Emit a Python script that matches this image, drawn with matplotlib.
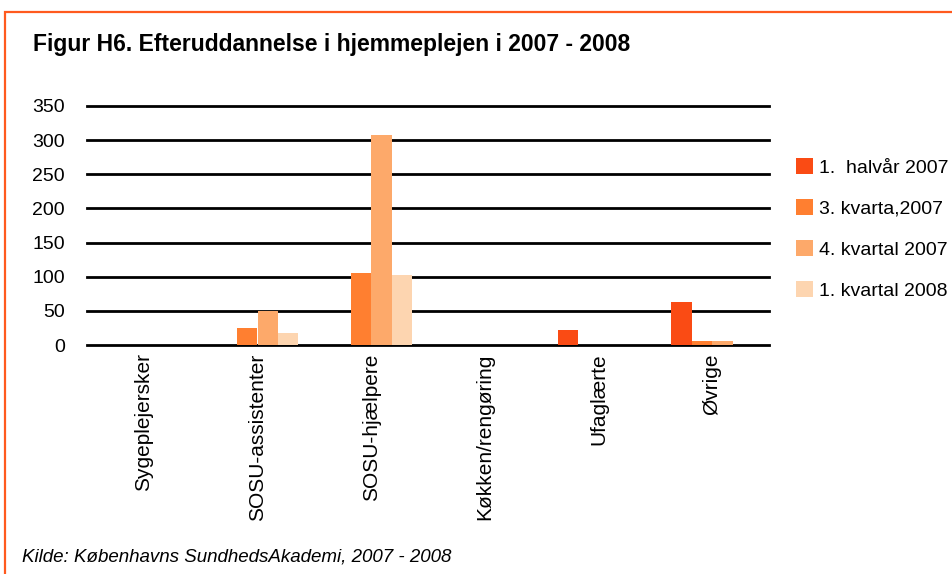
import matplotlib.pyplot as plt
import numpy as np
from matplotlib.patches import Rectangle

plt.rcParams['font.family'] = ['Liberation Sans', 'DejaVu Sans']

categories = ['Sygeplejersker', 'SOSU-assistenter', 'SOSU-hjælpere',
              'Køkken/rengøring', 'Ufaglærte', 'Øvrige']
series_names = ['1.  halvår 2007', '3. kvarta,2007', '4. kvartal 2007', '1. kvartal 2008']
halvaar_2007 = [0, 0, 0, 0, 22, 63]
kvartal3_2007 = [0, 25, 105, 0, 0, 6]
kvartal4_2007 = [0, 50, 308, 0, 0, 6]
kvartal1_2008 = [0, 18, 102, 0, 0, 0]
colors = ['#FA4B14', '#FF7F30', '#FDA96A', '#FDD5B0']

fig = plt.figure(figsize=(9.52, 5.74), dpi=100)

# orange ramme
fig.patches.append(Rectangle((5 / 952, -0.1), 1.2, 1.1 - 12 / 574, transform=fig.transFigure,
                             fill=False, edgecolor='#FF5A1E', linewidth=1.6))

ax = fig.add_axes([87 / 952, 1 - 345 / 574, 682 / 952, 239 / 574])
x = np.arange(len(categories))
w = 0.18
data = [halvaar_2007, kvartal3_2007, kvartal4_2007, kvartal1_2008]
for i, vals in enumerate(data):
    ax.bar(x + (i - 1.5) * w, vals, width=w, color=colors[i], label=series_names[i], zorder=3)

ax.set_xlim(-0.5, len(categories) - 0.5)
ax.set_ylim(0, 350)
ax.set_yticks(range(0, 351, 50))
ax.yaxis.grid(True, color='black', linewidth=2, zorder=0)
ax.set_axisbelow(True)
for line in ax.get_ygridlines():
    line.set_clip_on(False)
for s in ax.spines.values():
    s.set_visible(False)
ax.tick_params(axis='both', length=0, labelsize=14)
ax.tick_params(axis='y', pad=16)
ax.set_xticks(x)
ax.set_xticklabels(categories, rotation=90, va='top', ha='center', fontsize=15)
ax.tick_params(axis='x', pad=6)

fig.legend(loc='upper left', bbox_to_anchor=(788 / 952, 1 - 150 / 574), frameon=False,
           fontsize=14, handlelength=0.9, handleheight=0.9, handletextpad=0.3,
           labelspacing=1.15, borderaxespad=0)

fig.text(33 / 952, 1 - 45 / 574, 'Figur H6. Efteruddannelse i hjemmeplejen i 2007 - 2008',
         fontsize=16.5, fontweight='bold', va='center', ha='left')
fig.text(22 / 952, 1 - 557 / 574, 'Kilde: Københavns SundhedsAkademi, 2007 - 2008',
         fontsize=13.5, style='italic', va='center', ha='left')

fig.savefig('out.png', dpi=100, facecolor='white')
